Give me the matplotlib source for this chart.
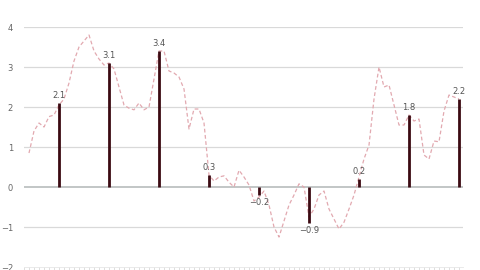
import numpy as np
import matplotlib
matplotlib.use("Agg")
import matplotlib.pyplot as plt

# --- dados ---
line_x = list(range(1, 88))
line_y = [0.85, 1.4, 1.6, 1.5, 1.76, 1.8, 2.05, 2.2, 2.6, 3.15,
          3.5, 3.65, 3.8, 3.4, 3.2, 3.05, 3.1, 2.95, 2.5, 2.05,
          1.97, 1.93, 2.1, 1.93, 2.0, 2.7, 3.4, 3.4, 2.9, 2.85,
          2.75, 2.45, 1.45, 1.95, 1.95, 1.6, 0.3, 0.15, 0.25, 0.28,
          0.12, 0.0, 0.42, 0.25, 0.05, -0.35, -0.25, -0.1, -0.45, -1.0,
          -1.25, -0.85, -0.45, -0.2, 0.08, 0.0, -0.75, -0.55, -0.2, -0.1,
          -0.55, -0.8, -1.05, -0.88, -0.55, -0.2, 0.25, 0.7, 1.05, 2.2,
          3.0, 2.5, 2.55, 2.05, 1.55, 1.55, 1.8, 1.65, 1.7, 0.8,
          0.7, 1.15, 1.13, 1.9, 2.3, 2.25, 2.2]

stem_x = [7, 17, 27, 37, 47, 57, 67, 77, 87]
stem_y = [2.1, 3.1, 3.4, 0.3, -0.2, -0.9, 0.2, 1.8, 2.2]

yticks = [-2, -1, 0, 1, 2, 3, 4]

fig = plt.figure(figsize=(4.8, 2.7), dpi=100)
ax = fig.add_axes([0.05, 0.011, 0.9146, 0.889])

# grade horizontal
for yt in yticks:
    if yt == 0:
        ax.axhline(yt, color='#b8bcbc', lw=1.2, zorder=1)
    elif yt > -2:
        ax.axhline(yt, color='#d9d9d9', lw=0.9, zorder=1)

# linha tracejada
ax.plot(line_x, line_y, linestyle='--', color='#e2a9b0', lw=0.9,
        dashes=(3, 2), zorder=2)

# hastes
ax.vlines(stem_x, 0, stem_y, color='#3b0a12', lw=2.0, zorder=3)

for x, y in zip(stem_x, stem_y):
    txt = f'{y:.1f}'.replace('-', '\u2212')
    if y >= 0:
        ax.annotate(txt, (x, y), xytext=(0, 2), textcoords='offset points',
                    ha='center', va='bottom', fontsize=6, color='#555555')
    else:
        ax.annotate(txt, (x, y), xytext=(0, -2), textcoords='offset points',
                    ha='center', va='top', fontsize=6, color='#555555')

ax.set_xlim(0, 87.8)
ax.set_ylim(-2, 4)
ax.set_yticks(yticks)
ax.set_yticklabels([str(t).replace('-', '\u2212') for t in yticks])
ax.tick_params(axis='y', length=0, pad=8, labelsize=6, labelcolor='#666666')
ax.set_xticks(np.arange(0, 88, 1))
ax.set_xticklabels([])
ax.tick_params(axis='x', length=2, width=0.6, color='#d9d9d9', direction='out')

for side in ['top', 'right', 'left']:
    ax.spines[side].set_visible(False)
ax.spines['bottom'].set_color('#e6e6e6')
ax.spines['bottom'].set_linewidth(0.6)

fig.savefig('out.png', dpi=100)
